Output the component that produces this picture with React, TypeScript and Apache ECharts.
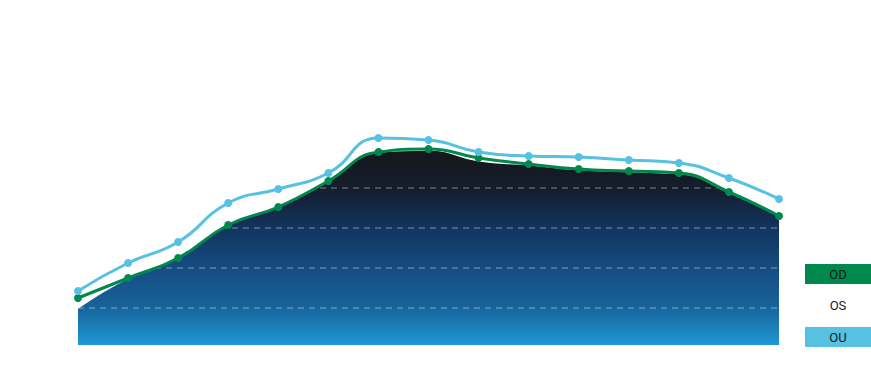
import React, { useEffect, useRef } from "react";
import * as echarts from "echarts";

const categories = ["1", "2", "3", "4", "5", "6", "7", "8", "9", "10", "11", "12", "13", "14", "15"];
const odValues = [12.5, 17.5, 22.5, 30.75, 35.25, 41.75, 49, 49.75, 47.5, 46, 44.75, 44.25, 43.75, 39, 33];
const osValues = [10, 17.5, 22.5, 30.75, 35.25, 41.75, 49, 49.5, 46.8, 45.8, 44.6, 44.1, 43.6, 38.9, 33];
const ouValues = [14.25, 21.25, 26.5, 36.25, 39.75, 43.75, 52.5, 52, 49, 48, 47.75, 47, 46.25, 42.5, 37.25];
const seriesNames = ["OD", "OS", "OU"];
const seriesColors = ["#00894f", "#ffffff", "#56c1e2"];

export default function App() {
  const ref = useRef<HTMLDivElement>(null);
  useEffect(() => {
    if (!ref.current) return;
    const chart = echarts.init(ref.current, undefined, { renderer: "svg" });
    const legendGraphics: any[] = [];
    seriesNames.forEach((name, i) => {
      const top = 264 + i * 31.5;
      legendGraphics.push({
        type: "rect",
        shape: { x: 805, y: top, width: 66, height: 20 },
        style: { fill: seriesColors[i] },
        z: 100,
      });
      legendGraphics.push({
        type: "text",
        x: 838,
        y: top + 10,
        style: {
          text: name,
          fill: "#1a1a1a",
          font: "13px Roboto",
          textAlign: "center",
          textVerticalAlign: "middle",
        },
        z: 101,
      });
    });
    chart.setOption({
      animation: false,
      backgroundColor: "#ffffff",
      grid: { left: 78, right: 92, top: 28, bottom: 43, containLabel: false },
      xAxis: {
        type: "category",
        data: categories,
        boundaryGap: false,
        axisLine: { show: false },
        axisTick: { show: false },
        axisLabel: { show: false },
        splitLine: { show: false },
      },
      yAxis: {
        type: "value",
        min: 0,
        max: 80,
        interval: 10,
        z: 5,
        axisLine: { show: false },
        axisTick: { show: false },
        axisLabel: { show: false },
        splitLine: {
          show: true,
          lineStyle: { color: "rgba(255,255,255,0.3)", type: [6, 5], width: 1.5 },
        },
      },
      series: [
        {
          name: seriesNames[1],
          type: "line",
          data: osValues,
          smooth: true,
          symbol: "none",
          z: 2,
          lineStyle: { color: "#ffffff", width: 1.5 },
          areaStyle: {
            origin: 0.75,
            opacity: 1,
            color: new echarts.graphic.LinearGradient(0, 0, 0, 1, [
              { offset: 0, color: "#15171b" },
              { offset: 0.2, color: "#141e2d" },
              { offset: 0.4, color: "#12345f" },
              { offset: 0.6, color: "#154b80" },
              { offset: 0.8, color: "#17629a" },
              { offset: 1, color: "#1f98d4" },
            ]),
          },
        },
        {
          name: seriesNames[0],
          type: "line",
          data: odValues,
          smooth: true,
          symbol: "circle",
          symbolSize: 8,
          z: 6,
          itemStyle: { color: seriesColors[0] },
          lineStyle: { color: seriesColors[0], width: 3 },
        },
        {
          name: seriesNames[2],
          type: "line",
          data: ouValues,
          smooth: true,
          symbol: "circle",
          symbolSize: 8,
          z: 7,
          itemStyle: { color: seriesColors[2] },
          lineStyle: { color: seriesColors[2], width: 3 },
        },
      ],
      graphic: legendGraphics,
    });
    return () => chart.dispose();
  }, []);
  return <div ref={ref} style={{ width: 871, height: 391, position: "absolute", left: 0, top: 0 }} />;
}
